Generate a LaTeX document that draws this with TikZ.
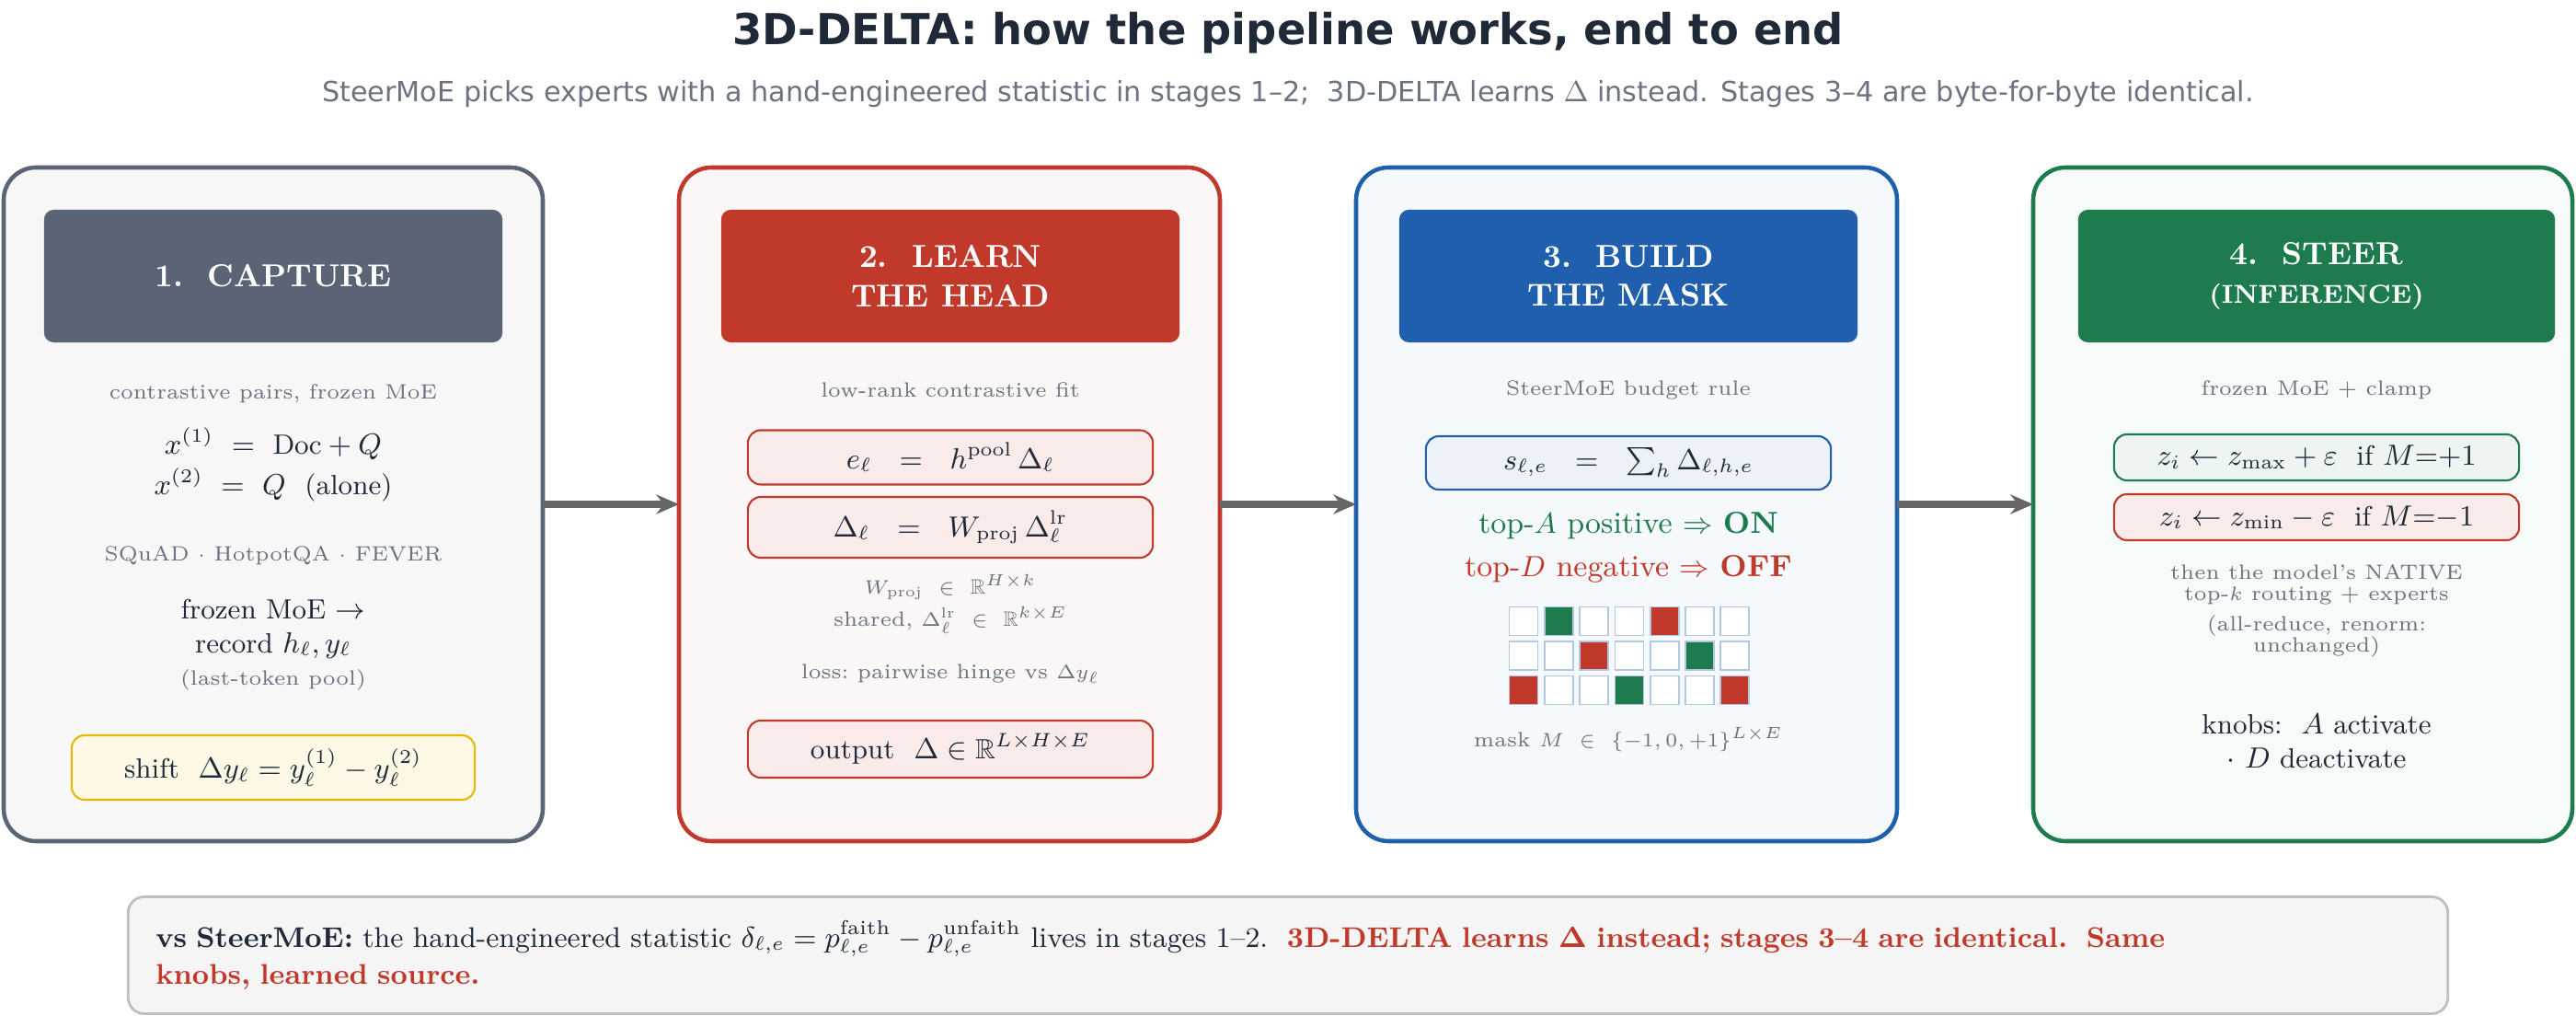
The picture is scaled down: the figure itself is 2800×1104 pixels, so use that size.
\documentclass[tikz,border=0pt]{standalone}
\usepackage{amsmath,amssymb}
\usepackage{fontspec}
\newfontfamily\dvs{DejaVu Sans}
\usetikzlibrary{arrows.meta}
\definecolor{cgray}{HTML}{5B6475}
\definecolor{cred}{HTML}{C0392B}
\definecolor{cblue}{HTML}{1F5FAD}
\definecolor{cgreen}{HTML}{1E7B4E}
\definecolor{ctext}{HTML}{1F2937}
\definecolor{csub}{HTML}{6B7280}
\definecolor{cyel}{HTML}{E6B800}
\tikzset{
 panel/.style={draw=#1, line width=1.3pt, rounded corners=10pt},
 head/.style={fill=#1, rounded corners=3pt, text=white, align=center, font=\fontsize{9.8}{12}\selectfont\bfseries},
 sub/.style={text=csub, font=\fontsize{6.4}{7.6}\selectfont, align=center},
 body/.style={text=ctext, font=\fontsize{8.6}{10.5}\selectfont, align=center},
 fbox/.style={draw=#1, line width=0.6pt, rounded corners=4pt},
 cell/.style={draw=cblue!35, line width=0.5pt, minimum size=0.31cm, inner sep=0},
 arr/.style={-{Stealth[length=7pt,width=6pt]}, line width=2pt, draw=black!60},
}
\begin{document}
\begin{tikzpicture}[x=0.01cm,y=-0.01cm]
\useasboundingbox (0,0) rectangle (2800,1104);
\node[font=\dvs\fontsize{13.2}{16}\selectfont\bfseries, text=ctext] (title) at (1400,36) {3D-DELTA: how the pipeline works, end to end};
\node[font=\dvs\fontsize{8.6}{10}\selectfont, text=csub] (subt) at (1400,102) {SteerMoE picks experts with a hand-engineered statistic in stages 1–2;\ \ 3D-DELTA learns $\Delta$ instead. Stages 3–4 are byte-for-byte identical.};
% panels
\draw[panel=cgray, fill=cgray!5] (4,182) rectangle (590,914);
\draw[panel=cred, fill=cred!4] (738,182) rectangle (1326,914);
\draw[panel=cblue, fill=cblue!4] (1474,182) rectangle (2062,914);
\draw[panel=cgreen, fill=cgreen!4] (2210,182) rectangle (2796,914);
\coordinate (P1r) at (590,548); \coordinate (P2l) at (738,548);
\coordinate (P2r) at (1326,548); \coordinate (P3l) at (1474,548);
\coordinate (P3r) at (2062,548); \coordinate (P4l) at (2210,548);
\draw[arr] (P1r) -- (P2l);
\draw[arr] (P2r) -- (P3l);
\draw[arr] (P3r) -- (P4l);
% headers
\node[head=cgray, minimum width=4.98cm, minimum height=1.44cm] (h1) at (297,300) {1.\ \ CAPTURE};
\node[head=cred, minimum width=4.98cm, minimum height=1.44cm] (h2) at (1033,300) {2.\ \ LEARN\\THE HEAD};
\node[head=cblue, minimum width=4.98cm, minimum height=1.44cm] (h3) at (1770,300) {3.\ \ BUILD\\THE MASK};
\node[head=cgreen, minimum width=5.18cm, minimum height=1.44cm] (h4) at (2518,300) {4.\ \ STEER\\{\fontsize{8}{10}\selectfont (INFERENCE)}};
% panel 1
\node[sub] (a1) at (297,428) {contrastive pairs, frozen MoE};
\node[body] (a2) at (297,482) {$x^{(1)}\ =\ \mathrm{Doc}+Q$};
\node[body] (a3) at (297,527) {$x^{(2)}\ =\ Q\ \ \text{(alone)}$};
\node[sub] (a4) at (297,604) {SQuAD $\cdot$ HotpotQA $\cdot$ FEVER};
\node[body] (a5) at (297,683) {frozen MoE $\rightarrow$\\record $h_\ell, y_\ell$};
\node[sub] (a6) at (297,739) {(last-token pool)};
\node[fbox=cyel, fill=cyel!10, body, minimum width=4.38cm, minimum height=0.7cm] (a7) at (297,834) {shift\ \ $\Delta y_\ell = y_\ell^{(1)} - y_\ell^{(2)}$};
% panel 2
\node[sub] (b1) at (1033,424) {low-rank contrastive fit};
\node[fbox=cred, fill=cred!10, body, minimum width=4.4cm, minimum height=0.59cm] (b2) at (1033,497) {$e_\ell\ \ =\ \ h^{\mathrm{pool}}\,\Delta_\ell$};
\node[fbox=cred, fill=cred!10, body, minimum width=4.4cm, minimum height=0.66cm] (b3) at (1033,573) {$\Delta_\ell\ \ =\ \ W_{\mathrm{proj}}\,\Delta_\ell^{\mathrm{lr}}$};
\node[sub] (b4a) at (1033,638) {$W_{\mathrm{proj}}\ \in\ \mathbb{R}^{H\times k}$};
\node[sub] (b4b) at (1033,674) {shared, $\Delta_\ell^{\mathrm{lr}}\ \in\ \mathbb{R}^{k\times E}$};
\node[sub] (b5) at (1033,732) {loss:\ pairwise hinge vs $\Delta y_\ell$};
\node[fbox=cred, fill=cred!10, body, minimum width=4.4cm, minimum height=0.62cm] (b6) at (1033,814) {output\ \ $\Delta \in \mathbb{R}^{L\times H\times E}$};
% panel 3
\node[sub] (c1) at (1770,424) {SteerMoE budget rule};
\node[fbox=cblue, fill=cblue!8, body, minimum width=4.4cm, minimum height=0.58cm] (c2) at (1770,503) {$s_{\ell,e}\ \ =\ \ \sum_h \Delta_{\ell,h,e}$};
\node[body, text=cgreen, font=\fontsize{9.4}{11}\selectfont] (c3) at (1770,571) {top-$A$ positive $\Rightarrow$ \textbf{ON}};
\node[body, text=cred, font=\fontsize{9.4}{11}\selectfont] (c4) at (1770,618) {top-$D$ negative $\Rightarrow$ \textbf{OFF}};
\foreach \r/\row in {0/{0,1,0,0,2,0,0},1/{0,0,2,0,0,1,0},2/{2,0,0,1,0,0,2}}{
 \foreach \v [count=\c from 0] in \row {
  \ifcase\v \def\cc{white}\or \def\cc{cgreen}\or \def\cc{cred}\fi
  \node[cell, fill=\cc] (m\r\c) at (1656+\c*38.3,675+\r*37.5) {};
 }}
\node[sub] (c5) at (1770,804) {mask $M\ \in\ \{-1,0,+1\}^{L\times E}$};
% panel 4
\node[sub] (d1) at (2518,424) {frozen MoE + clamp};
\node[fbox=cgreen, fill=cgreen!8, body, minimum width=4.4cm, minimum height=0.5cm] (d2) at (2518,497) {$z_i \leftarrow z_{\max}+\varepsilon\ \ \text{if } M{=}{+}1$};
\node[fbox=cred, fill=cred!10, body, minimum width=4.4cm, minimum height=0.5cm] (d3) at (2518,562) {$z_i \leftarrow z_{\min}-\varepsilon\ \ \text{if } M{=}{-}1$};
\node[sub] (d4) at (2518,635) {then the model's NATIVE\\[-1pt]top-$k$ routing + experts};
\node[sub] (d5) at (2518,691) {(all-reduce, renorm:\\[-1pt]unchanged)};
\node[body] (d6) at (2518,805) {knobs:\ \ $A$ activate\\$\cdot\ D$ deactivate};
% bottom
\node[draw=black!25, fill=black!4, line width=0.8pt, rounded corners=5pt, minimum width=25.2cm, minimum height=1.27cm] (bot) at (1400,1038) {};
\node[text width=24.6cm, align=left, text=ctext, font=\fontsize{8.8}{11.5}\selectfont] (bt) at (1400,1038) {\textbf{vs SteerMoE:} the hand-engineered statistic $\delta_{\ell,e}=p^{\mathrm{faith}}_{\ell,e}-p^{\mathrm{unfaith}}_{\ell,e}$ lives in stages 1--2.\ \ {\color{cred}\bfseries 3D-DELTA learns $\boldsymbol{\Delta}$ instead; stages 3--4 are identical.\ \ Same\\knobs, learned source.}};
\end{tikzpicture}
\end{document}
